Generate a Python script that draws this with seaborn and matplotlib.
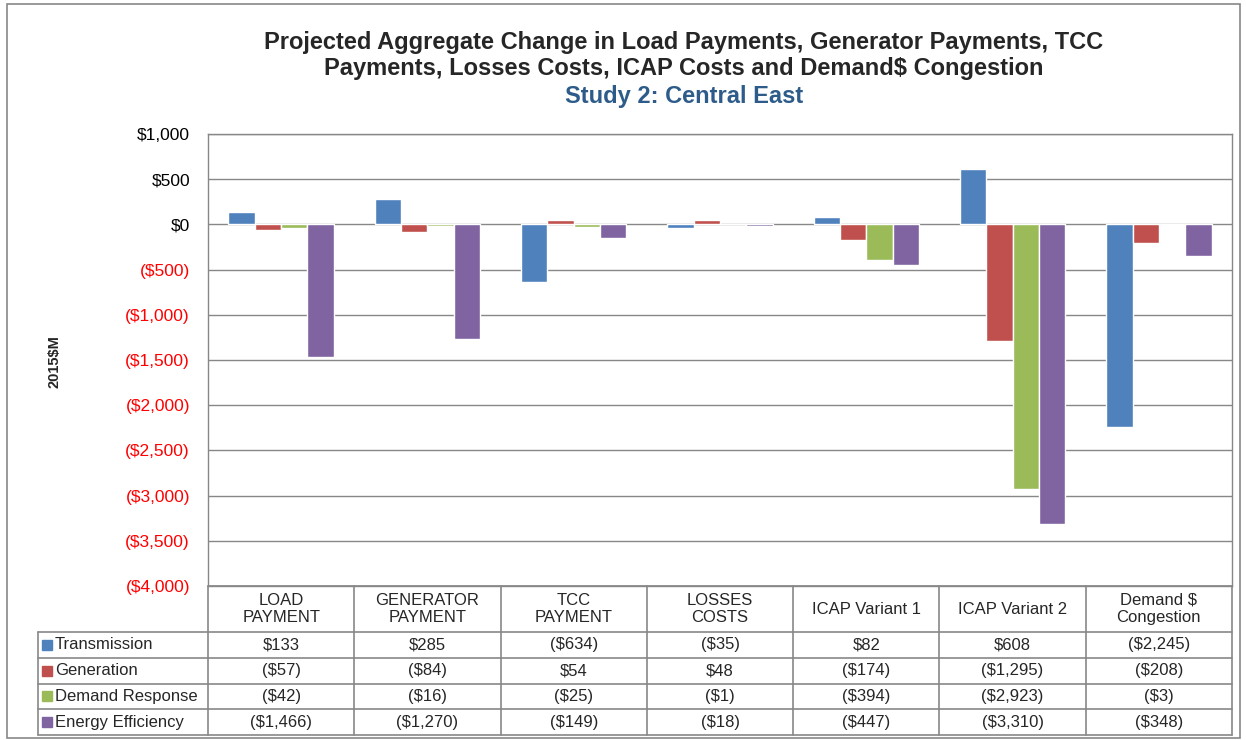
"""
Study 2: Central East - projected aggregate change chart with data table.
"""

import matplotlib
matplotlib.use('Agg')
import matplotlib.pyplot as plt
import matplotlib.transforms as mtransforms
from matplotlib.patches import Rectangle
import seaborn as sns
import numpy as np
import pandas as pd

# Data
categories = ['LOAD\nPAYMENT', 'GENERATOR\nPAYMENT', 'TCC\nPAYMENT', 'LOSSES\nCOSTS',
              'ICAP Variant 1', 'ICAP Variant 2', 'Demand $\nCongestion']
series_names = ['Transmission', 'Generation', 'Demand Response', 'Energy Efficiency']
transmission = [133, 285, -634, -35, 82, 608, -2245]
generation = [-57, -84, 54, 48, -174, -1295, -208]
demand_response = [-42, -16, -25, -1, -394, -2923, -3]
energy_efficiency = [-1466, -1270, -149, -18, -447, -3310, -348]
yticks = [1000, 500, 0, -500, -1000, -1500, -2000, -2500, -3000, -3500, -4000]

colors = ['#4F81BD', '#C0504D', '#9BBB59', '#8064A2']
series_values = [transmission, generation, demand_response, energy_efficiency]


def money(v):
    if v < 0:
        return f'(${abs(v):,})'
    return f'${v:,}'


rows = []
for name, vals in zip(series_names, series_values):
    for cat, v in zip(categories, vals):
        rows.append({'Category': cat, 'Series': name, 'Value': v})
df = pd.DataFrame(rows)

sns.set_style('white')
plt.rcParams['font.family'] = ['Liberation Sans', 'DejaVu Sans']

W, H = 1246, 740
fig = plt.figure(figsize=(W / 100, H / 100), dpi=100)
ax = fig.add_axes([208 / W, (H - 586) / H, 1024 / W, 452 / H])

sns.barplot(data=df, x='Category', y='Value', hue='Series', order=categories,
            hue_order=series_names, palette=colors, width=0.72, saturation=1,
            legend=False, ax=ax)

ax.set_xlim(-0.5, len(categories) - 0.5)
ax.set_ylim(-4000, 1000)
ax.set_yticks(yticks)
ax.set_yticklabels([money(t) for t in yticks], fontsize=12.5)
for lbl, t in zip(ax.get_yticklabels(), yticks):
    lbl.set_color('red' if t < 0 else 'black')
ax.tick_params(axis='y', length=0, pad=13)
ax.set_xticks([])
ax.set_xlabel('')
ax.set_ylabel('')
ax.yaxis.grid(True, color='#878787', linewidth=1)
ax.set_axisbelow(True)
for sp in ax.spines.values():
    sp.set_color('#878787')
    sp.set_linewidth(1)

fig.text(55 / W, (H - 362) / H, '2015$M', rotation=90, fontsize=10.5, fontweight='bold',
         ha='center', va='center')

# Titles
title_kw = dict(ha='center', va='center', fontsize=17, fontweight='bold')
fig.text(684 / W, (H - 42) / H,
         'Projected Aggregate Change in Load Payments, Generator Payments, TCC', **title_kw)
fig.text(684 / W, (H - 68) / H,
         'Payments, Losses Costs, ICAP Costs and Demand$ Congestion', **title_kw)
fig.text(684 / W, (H - 96) / H, 'Study 2: Central East', color='#2E5C8A', **title_kw)

# Data table under the axes
trans = mtransforms.blended_transform_factory(ax.transData, ax.transAxes)
px = 1 / 452
header_bot = -46 * px
row_edges = [header_bot - i * 25.75 * px for i in range(5)]
grid_kw = dict(color='#878787', linewidth=1.2, clip_on=False)
xpx = len(categories) / 1024
label_left = -0.5 + (38 - 208) * xpx

# horizontal lines
ax.plot([-0.5, 6.5], [0, 0], transform=trans, **grid_kw)
for y in row_edges:
    ax.plot([label_left, 6.5], [y, y], transform=trans, **grid_kw)
# vertical lines
for xb in np.arange(-0.5, 7.0, 1.0):
    ax.plot([xb, xb], [0, row_edges[-1]], transform=trans, **grid_kw)
ax.plot([label_left, label_left], [row_edges[0], row_edges[-1]], transform=trans, **grid_kw)

for i, cat in enumerate(categories):
    ax.text(i, header_bot / 2, cat, transform=trans, ha='center', va='center',
            fontsize=12, linespacing=1.2, clip_on=False)

for r, (name, vals, col) in enumerate(zip(series_names, series_values, colors)):
    yc = (row_edges[r] + row_edges[r + 1]) / 2
    sq = Rectangle((label_left + 4 * xpx, yc - 5 * px), 10 * xpx, 10 * px,
                   transform=trans, color=col, clip_on=False)
    ax.add_patch(sq)
    ax.text(label_left + 17 * xpx, yc, name, transform=trans,
            ha='left', va='center', fontsize=12, clip_on=False)
    for i, v in enumerate(vals):
        ax.text(i, yc, money(v), transform=trans, ha='center', va='center',
                fontsize=12, clip_on=False)

# outer chart frame
fig.patches.append(Rectangle((7 / W, 2 / H), 1233 / W, 734 / H, transform=fig.transFigure,
                             fill=False, edgecolor='#878787', linewidth=1.2))

fig.savefig('out.png', dpi=100)
